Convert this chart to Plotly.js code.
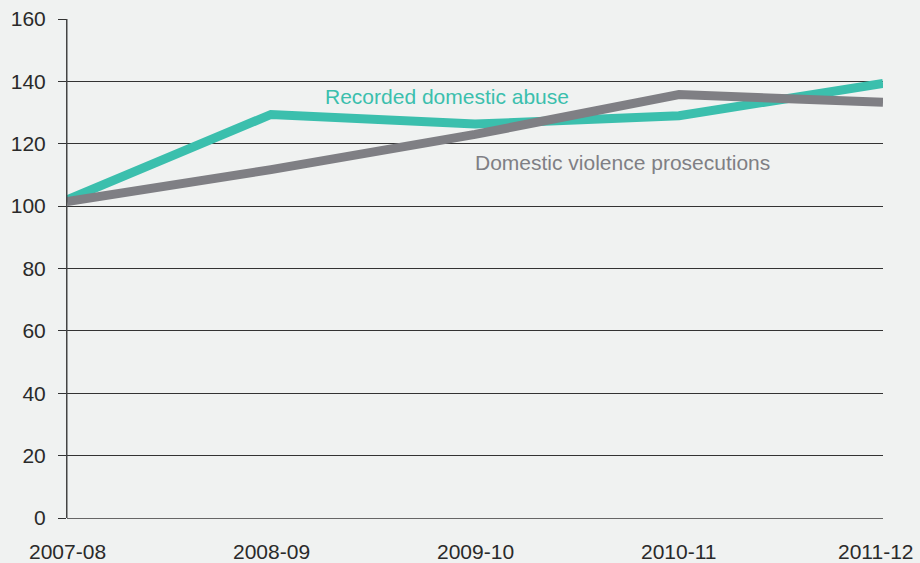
<!DOCTYPE html>
<html>
<head>
<meta charset="utf-8">
<script src="https://cdn.plot.ly/plotly-3.0.1.min.js"></script>
<style>
  html, body { margin: 0; padding: 0; background: #f0f2f1; }
  #chart { width: 920px; height: 563px; }
</style>
</head>
<body>
<div id="chart"></div>
<script>
// Financial years on the x axis
const years = ['2007-08', '2008-09', '2009-10', '2010-11', '2011-12'];
// Index values (2007-08 around 100)
const recordedAbuse = [102, 129.4, 126.3, 129, 139.3];
const dvProsecutions = [101.5, 111.7, 123, 135.8, 133.3];
const yTicks = [0, 20, 40, 60, 80, 100, 120, 140, 160];

const teal = '#3bbfad';
const grey = '#7f7f84';
const font = 'Liberation Sans, Arial, sans-serif';
const labelColor = '#2a2a2a';

const traces = [
  {
    x: years, y: recordedAbuse, type: 'scatter', mode: 'lines',
    line: { color: teal, width: 9 }, hoverinfo: 'skip'
  },
  {
    x: years, y: dvProsecutions, type: 'scatter', mode: 'lines',
    line: { color: grey, width: 9 }, hoverinfo: 'skip'
  }
];

// Year labels under the axis; the last one is pulled in so it stays on the page
const yearLabels = years.map((yr, i) => ({
  x: yr, y: 0, xref: 'x', yref: 'paper', yanchor: 'top',
  yshift: -20, xshift: i === years.length - 1 ? -7 : 0,
  text: yr, showarrow: false,
  font: { family: font, size: 21, color: labelColor }
}));

const layout = {
  width: 920, height: 563,
  margin: { l: 67, r: 37, t: 19, b: 45 },
  paper_bgcolor: '#f0f2f1', plot_bgcolor: '#f0f2f1',
  showlegend: false,
  font: { family: font, size: 21, color: labelColor },
  xaxis: {
    type: 'category', range: [0, 4], showgrid: false, zeroline: false,
    showline: false, ticks: '', showticklabels: false, fixedrange: true
  },
  yaxis: {
    range: [0, 160], tickvals: yTicks, ticktext: yTicks.map(String),
    showgrid: true, gridcolor: '#333', gridwidth: 1,
    zeroline: true, zerolinecolor: '#666', zerolinewidth: 1,
    showline: true, linecolor: '#444', linewidth: 1,
    ticks: 'outside', ticklen: 8, tickcolor: '#333',
    ticklabelstandoff: 8,
    tickfont: { size: 21, color: labelColor }, fixedrange: true
  },
  shapes: [
    // y-axis line runs a little past both ends of the range
    { type: 'line', xref: 'paper', yref: 'y', x0: 0, x1: 0, y0: -2.9, y1: 162,
      line: { color: '#444', width: 1 } }
  ],
  annotations: [
    { x: 1.255, y: 135.1, xref: 'x', yref: 'y',
      text: 'Recorded domestic abuse', showarrow: false, xanchor: 'left',
      font: { family: font, size: 21, color: teal } },
    { x: 1.99, y: 114, xref: 'x', yref: 'y',
      text: 'Domestic violence prosecutions', showarrow: false, xanchor: 'left',
      font: { family: font, size: 21, color: grey } }
  ].concat(yearLabels)
};

Plotly.newPlot('chart', traces, layout, { displayModeBar: false, staticPlot: true });
</script>
</body>
</html>
